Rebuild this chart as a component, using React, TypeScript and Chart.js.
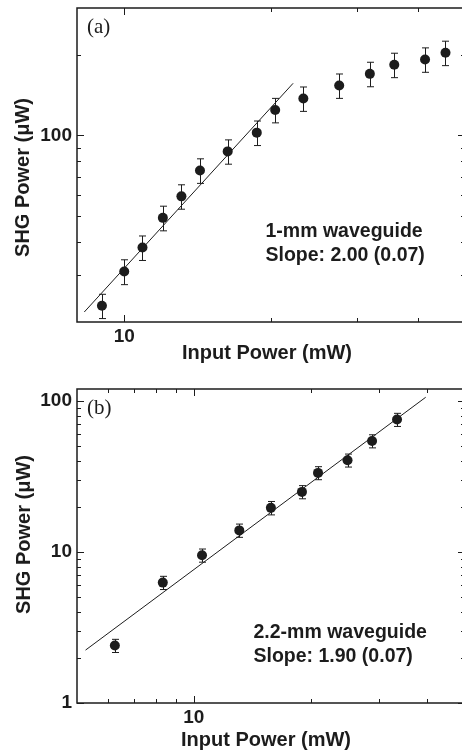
import React, { useEffect, useRef } from "react";
import { Chart, registerables } from "chart.js";

Chart.register(...registerables);

// ---------- Panel (a): 1-mm waveguide ----------
const aInputPower = [9.0, 10.0, 10.9, 12.0, 13.1, 14.3, 16.3, 18.7, 20.4, 23.3, 27.6, 31.9, 35.8, 41.4, 45.6];
const aShgPower = [23.0, 30.9, 38.0, 49.1, 59.1, 73.9, 87.1, 102.4, 124.5, 137.4, 153.7, 170.0, 183.8, 192.5, 203.9];
const aShgError = [2.4, 3.3, 4.0, 5.2, 6.2, 7.8, 9.1, 10.8, 13.1, 14.4, 16.1, 17.9, 19.3, 20.2, 21.4];
const aFitInput = [8.28, 22.2];
const aFitShg = [21.8, 156.7];
const aXTicks = [10, 20, 30, 40];
const aXLabelled = [10];
const aYTicks = [30, 40, 50, 60, 70, 80, 90, 100, 200];
const aYLabelled = [100];
const aXRange = [8, 50];
const aYRange = [20, 300];
const aNotes = ["1-mm waveguide", "Slope: 2.00 (0.07)"];

// ---------- Panel (b): 2.2-mm waveguide ----------
const bInputPower = [6.26, 8.32, 10.5, 13.1, 15.8, 19.0, 20.9, 24.9, 28.8, 33.4];
const bShgPower = [2.4, 6.27, 9.51, 13.9, 19.6, 25.0, 33.4, 40.5, 54.3, 75.3];
const bShgError = [0.24, 0.63, 0.95, 1.4, 2.0, 2.5, 3.3, 4.0, 5.4, 7.5];
const bFitInput = [5.26, 39.6];
const bFitShg = [2.24, 105.8];
const bXTicks = [6, 7, 8, 9, 10, 20, 30, 40];
const bXLabelled = [10];
const bYTicks = [2, 3, 4, 5, 6, 7, 8, 9, 10, 20, 30, 40, 50, 60, 70, 80, 90, 100];
const bYLabelled = [1, 10, 100];
const bXRange = [5, 50];
const bYRange = [1, 120];
const bNotes = ["2.2-mm waveguide", "Slope: 1.90 (0.07)"];

const xTitle = "Input Power (mW)";
const yTitle = "SHG Power (\u03bcW)";

const INK = "#1c1c1c";
const SANS = '"Liberation Sans", Arial, Helvetica, sans-serif';
const SERIF = '"Liberation Serif", "Times New Roman", serif';

type Panel = {
  tag: string;
  xs: number[];
  ys: number[];
  errs: number[];
  fitX: number[];
  fitY: number[];
  xTicks: number[];
  xLabelled: number[];
  yTicks: number[];
  yLabelled: number[];
  xRange: number[];
  yRange: number[];
  notes: string[];
  // layout (pixels in canvas coords)
  height: number;
  padTop: number;
  axisH: number;
  tagPos: [number, number];
  notePos: [number, number];
  xTitlePos: [number, number];
  yTitlePos: [number, number];
};

const panelA: Panel = {
  tag: "(a)",
  xs: aInputPower,
  ys: aShgPower,
  errs: aShgError,
  fitX: aFitInput,
  fitY: aFitShg,
  xTicks: aXTicks,
  xLabelled: aXLabelled,
  yTicks: aYTicks,
  yLabelled: aYLabelled,
  xRange: aXRange,
  yRange: aYRange,
  notes: aNotes,
  height: 370,
  padTop: 8,
  axisH: 48,
  tagPos: [87, 27],
  notePos: [265.5, 232],
  xTitlePos: [267, 353],
  yTitlePos: [23, 177.5],
};

const panelB: Panel = {
  tag: "(b)",
  xs: bInputPower,
  ys: bShgPower,
  errs: bShgError,
  fitX: bFitInput,
  fitY: bFitShg,
  xTicks: bXTicks,
  xLabelled: bXLabelled,
  yTicks: bYTicks,
  yLabelled: bYLabelled,
  xRange: bXRange,
  yRange: bYRange,
  notes: bNotes,
  height: 385,
  padTop: 19,
  axisH: 52,
  tagPos: [87, 38],
  notePos: [253.5, 263],
  xTitlePos: [266, 370],
  yTitlePos: [24, 164.5],
};

const CANVAS_W = 470;

function makeDecor(p: Panel) {
  return {
    id: "decor" + p.tag,
    beforeDatasetsDraw(chart: any) {
      const { ctx, scales } = chart;
      const x = scales.x;
      const y = scales.y;
      ctx.save();
      ctx.strokeStyle = INK;
      ctx.lineWidth = 1;
      p.xs.forEach((xv, i) => {
        const px = Math.round(x.getPixelForValue(xv)) + 0.5;
        const y1 = y.getPixelForValue(p.ys[i] + p.errs[i]);
        const y2 = y.getPixelForValue(p.ys[i] - p.errs[i]);
        ctx.beginPath();
        ctx.moveTo(px, y1);
        ctx.lineTo(px, y2);
        ctx.moveTo(px - 3.5, y1);
        ctx.lineTo(px + 3.5, y1);
        ctx.moveTo(px - 3.5, y2);
        ctx.lineTo(px + 3.5, y2);
        ctx.stroke();
      });
      ctx.restore();
    },
    afterDraw(chart: any) {
      const { ctx, chartArea: a, scales } = chart;
      const x = scales.x;
      const y = scales.y;
      ctx.save();
      ctx.strokeStyle = INK;
      ctx.lineWidth = 1.5;
      ctx.strokeRect(a.left, a.top, a.right - a.left, a.bottom - a.top);
      ctx.lineWidth = 1;
      const seg = (x1: number, y1: number, x2: number, y2: number) => {
        ctx.beginPath();
        ctx.moveTo(x1, y1);
        ctx.lineTo(x2, y2);
        ctx.stroke();
      };
      p.xTicks.forEach((v) => {
        const px = Math.round(x.getPixelForValue(v)) + 0.5;
        const len = p.xLabelled.includes(v) ? 7 : 4;
        seg(px, a.bottom, px, a.bottom - len);
        seg(px, a.top, px, a.top + len);
      });
      const yAll = Array.from(new Set([...p.yTicks, ...p.yLabelled]));
      yAll.forEach((v) => {
        const py = Math.round(y.getPixelForValue(v)) + 0.5;
        const len = p.yLabelled.includes(v) ? 7 : 4;
        seg(a.left, py, a.left + len, py);
        seg(a.right, py, a.right - len, py);
      });

      ctx.fillStyle = INK;
      // panel tag
      ctx.font = `21px ${SERIF}`;
      ctx.textAlign = "left";
      ctx.textBaseline = "middle";
      ctx.fillText(p.tag, p.tagPos[0], p.tagPos[1]);

      // notes
      ctx.font = `bold 19.5px ${SANS}`;
      p.notes.forEach((t, i) => {
        ctx.fillText(t, p.notePos[0], p.notePos[1] + i * 24);
      });

      // axis titles
      ctx.font = `bold 20px ${SANS}`;
      ctx.textAlign = "center";
      ctx.fillText(xTitle, p.xTitlePos[0], p.xTitlePos[1]);
      ctx.translate(p.yTitlePos[0], p.yTitlePos[1]);
      ctx.rotate(-Math.PI / 2);
      ctx.fillText(yTitle, 0, 0);
      ctx.restore();
    },
  };
}

function PanelChart({ p }: { p: Panel }) {
  const ref = useRef<HTMLCanvasElement | null>(null);
  useEffect(() => {
    if (!ref.current) return;
    const chart = new Chart(ref.current, {
      type: "scatter",
      data: {
        datasets: [
          {
            data: p.xs.map((xv, i) => ({ x: xv, y: p.ys[i] })),
            pointRadius: 5,
            pointBackgroundColor: INK,
            pointBorderWidth: 0,
            showLine: false,
          },
          {
            data: p.fitX.map((xv, i) => ({ x: xv, y: p.fitY[i] })),
            showLine: true,
            pointRadius: 0,
            borderColor: INK,
            borderWidth: 1,
          },
        ],
      },
      options: {
        animation: false,
        responsive: false,
        devicePixelRatio: 1,
        events: [],
        layout: { padding: { left: 0, right: CANVAS_W - 466, top: p.padTop, bottom: 0 } },
        plugins: { legend: { display: false }, tooltip: { enabled: false } },
        scales: {
          x: {
            type: "logarithmic",
            min: p.xRange[0],
            max: p.xRange[1],
            grid: { display: false, drawTicks: false },
            border: { display: false },
            afterBuildTicks: (s: any) => {
              s.ticks = p.xTicks.map((v) => ({ value: v }));
            },
            afterFit: (s: any) => {
              s.height = p.axisH;
              s.paddingLeft = 0;
              s.paddingRight = 0;
              s.paddingTop = 0;
              s.paddingBottom = 0;
            },
            ticks: {
              autoSkip: false,
              maxRotation: 0,
              padding: 3,
              color: INK,
              font: { family: SANS, size: 19, weight: "bold" },
              callback: (v: any) => (p.xLabelled.includes(Number(v)) ? String(v) : ""),
            },
          },
          y: {
            type: "logarithmic",
            min: p.yRange[0],
            max: p.yRange[1],
            grid: { display: false, drawTicks: false },
            border: { display: false },
            afterBuildTicks: (s: any) => {
              const all = Array.from(new Set([...p.yLabelled, ...p.yTicks])).sort((m, n) => m - n);
              s.ticks = all.map((v) => ({ value: v }));
            },
            afterFit: (s: any) => {
              s.width = 77;
              s.paddingLeft = 0;
              s.paddingRight = 0;
              s.paddingTop = 0;
              s.paddingBottom = 0;
            },
            ticks: {
              autoSkip: false,
              padding: 5,
              color: INK,
              font: { family: SANS, size: 19, weight: "bold" },
              callback: (v: any) => (p.yLabelled.includes(Number(v)) ? String(v) : ""),
            },
          },
        },
      },
      plugins: [makeDecor(p)],
    } as any);
    return () => chart.destroy();
  }, [p]);
  return (
    <canvas
      ref={ref}
      width={CANVAS_W}
      height={p.height}
      style={{ display: "block", width: CANVAS_W, height: p.height }}
    />
  );
}

export default function App() {
  return (
    <div
      style={{
        position: "fixed",
        left: 0,
        top: 0,
        width: 462,
        height: 755,
        overflow: "hidden",
        background: "#fff",
      }}
    >
      <PanelChart p={panelA} />
      <PanelChart p={panelB} />
    </div>
  );
}
